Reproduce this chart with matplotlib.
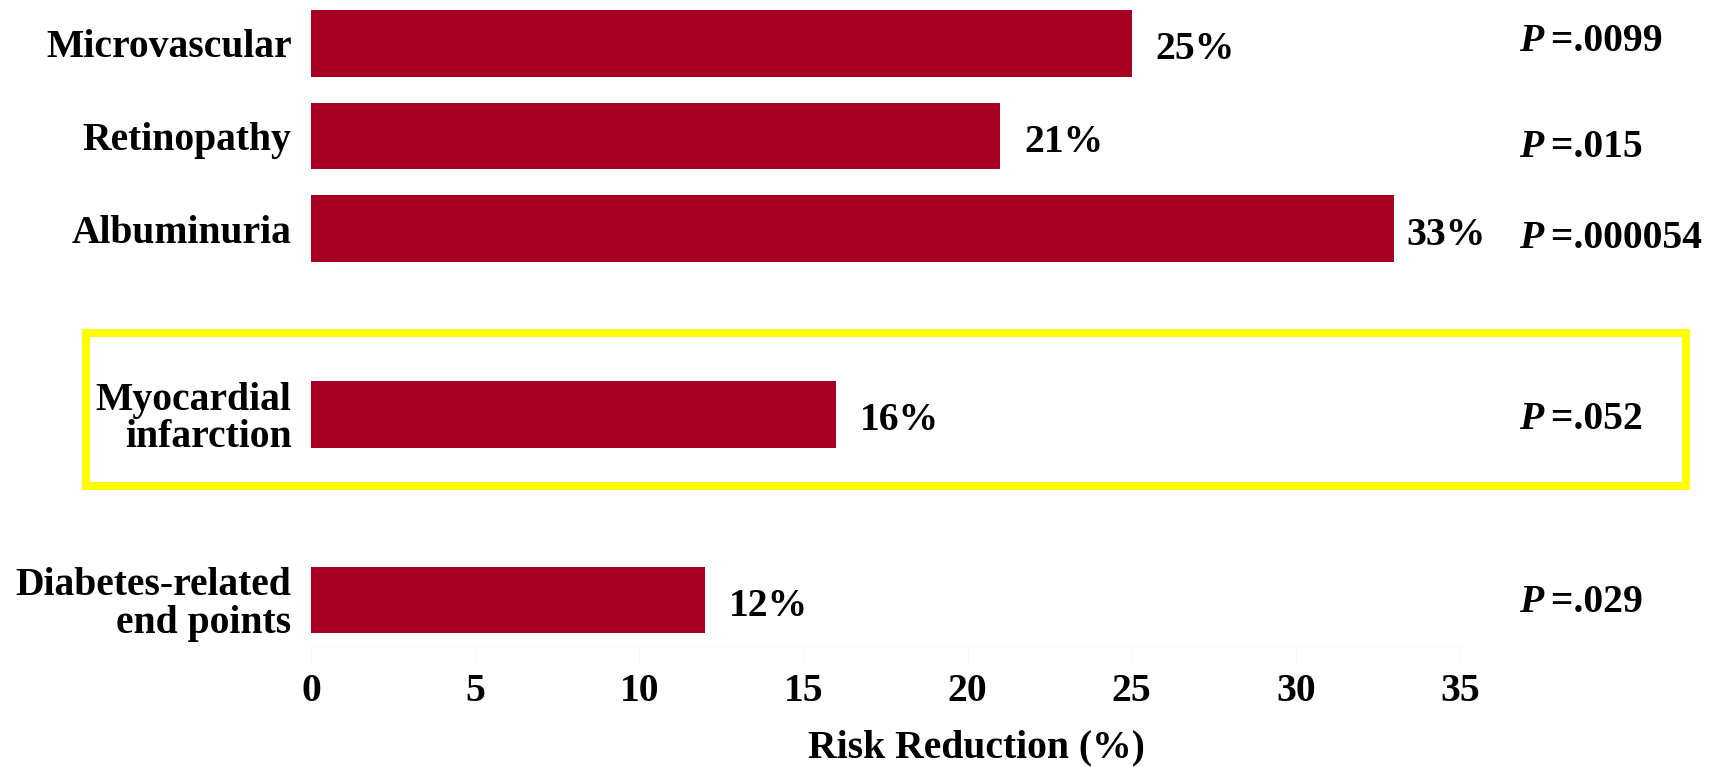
import matplotlib
matplotlib.use("Agg")
import matplotlib.pyplot as plt
from matplotlib.patches import Rectangle

# Data
categories = ["Microvascular", "Retinopathy", "Albuminuria",
              "Myocardial\ninfarction", "Diabetes-related\nend points"]
risk_reduction = [25, 21, 33, 16, 12]
p_values = [".0099", ".015", ".000054", ".052", ".029"]
x_ticks = [0, 5, 10, 15, 20, 25, 30, 35]
x_label = "Risk Reduction (%)"

# Vertical slots (gaps between groups)
positions = [0, 1, 2, 4, 6]

BAR_COLOR = "#A50021"
BOX_COLOR = "#FFFF00"
FS = 28.5

plt.rcParams["font.family"] = ["Liberation Serif", "DejaVu Serif"]
plt.rcParams["font.weight"] = "bold"

W, H = 1723, 767
fig = plt.figure(figsize=(W / 100, H / 100), dpi=100)
ax_left, ax_right = 311, 1460
ax_bottom_px, ax_top_px = 646.4, 1.4
ax = fig.add_axes([ax_left / W, 1 - ax_bottom_px / H,
                   (ax_right - ax_left) / W, (ax_bottom_px - ax_top_px) / H])

ax.barh(positions, risk_reduction, height=0.72, color=BAR_COLOR)
ax.set_xlim(0, 35)
ax.set_ylim(6.5, -0.45)

ax.set_yticks(positions)
ax.set_yticklabels(categories, fontsize=FS, fontweight="bold",
                   linespacing=1.02)
ax.tick_params(axis="y", length=0, pad=14)

ax.set_xticks(x_ticks)
ax.set_xticklabels([str(t) for t in x_ticks], fontsize=FS, fontweight="bold")
ax.tick_params(axis="x", length=12, width=1, color="#f8f8f8", pad=7)

for side in ["top", "right", "left"]:
    ax.spines[side].set_visible(False)
ax.spines["bottom"].set_color("#f8f8f8")

ax.set_xlabel(x_label, fontsize=FS, fontweight="bold")
ax.xaxis.set_label_coords((976 - ax_left) / (ax_right - ax_left),
                          -(748 - ax_bottom_px) / (ax_bottom_px - ax_top_px))
ax.xaxis.label.set_va("center")

# Value labels at bar ends
label_gap = [17, 17, 9, 17, 17]
for y, v, g in zip(positions, risk_reduction, label_gap):
    ax.annotate(f"{v}%", xy=(v, y), xytext=(g, -4.5), textcoords="offset points",
                ha="left", va="center", fontsize=FS, fontweight="bold",
                annotation_clip=False)

# P-values column
p_offsets = [-0.015, 0.125, 0.105, 0.055, 0.025]
p_x = 36.8
for y, p, dy in zip(positions, p_values, p_offsets):
    t = ax.text(p_x, y + dy, "P", ha="left", va="center", fontsize=FS,
                fontweight="bold", fontstyle="italic", clip_on=False)
    ax.annotate(" =" + p, xy=(1, 0.5), xycoords=t, xytext=(-2, 0),
                textcoords="offset points", ha="left", va="center",
                fontsize=FS, fontweight="bold")

# Highlight box around the myocardial infarction row
lw_px = 8
box = Rectangle((85.5 / W, 1 - 485.5 / H), (1686 - 85.5) / W, (485.5 - 333) / H,
                transform=fig.transFigure, fill=False, edgecolor=BOX_COLOR,
                linewidth=lw_px * 0.72, clip_on=False, joinstyle="miter")
fig.add_artist(box)

fig.savefig("out.png", dpi=100, facecolor="white")
